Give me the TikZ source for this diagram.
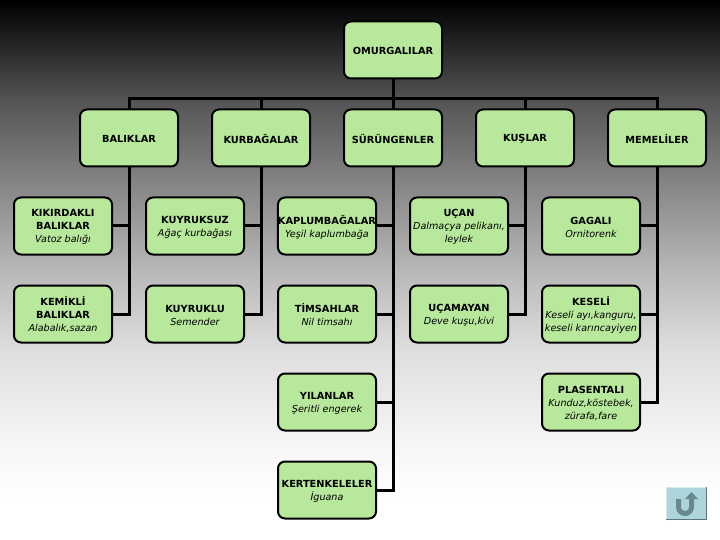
\documentclass[tikz,border=0pt]{standalone}
\usepackage{fontspec}
\setmainfont{DejaVu Sans}
\usepackage{tikz}
\usetikzlibrary{arrows.meta, positioning, calc}
\definecolor{BoxGreen}{RGB}{184, 232, 156}
\definecolor{BtnFace}{RGB}{172, 214, 220}
\definecolor{BtnArrow}{RGB}{104, 136, 142}
\pgfdeclareverticalshading{slidebg}{100bp}{
    color(0bp)=(white);
    color(28.7bp)=(white);
    color(33.3bp)=(black!3);
    color(42.6bp)=(black!13);
    color(50bp)=(black!28);
    color(56.5bp)=(black!44);
    color(65.7bp)=(black!67);
    color(73bp)=(black!93);
    color(75bp)=(black);
    color(100bp)=(black)}
\newcommand{\head}[1]{\raisebox{-1pt}[\height][\depth]{\fontsize{9.8pt}{13pt}\selectfont\bfseries #1}}
\newcommand{\kind}[1]{\raisebox{-1pt}[\height][\depth]{\fontsize{9.6pt}{13pt}\selectfont\itshape #1}}

\begin{document}
\begin{tikzpicture}[
    x=1pt,
    y=-1pt,
    group/.style={
        draw=black,
        fill=BoxGreen,
        line width=2pt,
        rounded corners=7pt,
        align=center,
        font=\fontsize{9.8pt}{13pt}\selectfont,
        minimum width=98pt,
        minimum height=57pt,
        inner sep=0pt,
        outer sep=0pt
    },
    link/.style={draw=black, line width=3pt, line cap=butt, line join=miter}
]

\useasboundingbox (0,0) rectangle (720,540);
\shade[shading=slidebg] (0,0) rectangle (720,540);

% top level
\node[group] (root) at (393,50) {\head{OMURGALILAR}};
\node[group] (balik) at (129,138) {\head{BALIKLAR}};
\node[group] (kurba) at (261,138) {\head{KURBAĞALAR}};
\node[group] (surun) at (393,138) {\head{SÜRÜNGENLER}};
\node[group] (kus) at (525,138) {\head{KUŞLAR}};
\node[group] (meme) at (657,138) {\head{MEMELİLER}};

% row one
\node[group] (kikir) at (63,226) {\head{KIKIRDAKLI}\\\head{BALIKLAR}\\\kind{Vatoz balığı}};
\node[group] (kuyruksuz) at (195,226) {\head{KUYRUKSUZ}\\\kind{Ağaç kurbağası}};
\node[group] (kaplum) at (327,226) {\head{KAPLUMBAĞALAR}\\\kind{Yeşil kaplumbağa}};
\node[group] (ucan) at (459,226) {\head{UÇAN}\\\kind{Dalmaçya pelikanı,}\\\kind{leylek}};
\node[group] (gagali) at (591,226) {\head{GAGALI}\\\kind{Ornitorenk}};

% row two
\node[group] (kemik) at (63,314) {\head{KEMİKLİ}\\\head{BALIKLAR}\\\kind{Alabalık,sazan}};
\node[group] (kuyruklu) at (195,314) {\head{KUYRUKLU}\\\kind{Semender}};
\node[group] (timsah) at (327,314) {\head{TİMSAHLAR}\\\kind{Nil timsahı}};
\node[group] (ucamayan) at (459,314) {\head{UÇAMAYAN}\\\kind{Deve kuşu,kivi}};
\node[group] (keseli) at (591,314) {\head{KESELİ}\\\kind{Keseli ayı,kanguru,}\\\kind{keseli karıncayiyen}};

% lower rows
\node[group] (yilan) at (327,402) {\head{YILANLAR}\\\kind{Şeritli engerek}};
\node[group] (plasenta) at (591,402) {\head{PLASENTALI}\\\kind{Kunduz,köstebek,}\\\kind{zürafa,fare}};
\node[group] (kerten) at (327,490) {\head{KERTENKELELER}\\\kind{İguana}};

% bus
\coordinate (bus) at (393,99);
\draw[link] (root.south) -- (surun.north);
\draw[link] (balik.north) |- (bus) -| (meme.north);
\draw[link] (kurba.north) -- (kurba.north |- bus);
\draw[link] (kus.north) -- (kus.north |- bus);

% spines
\draw[link] (balik.south) |- (kemik.east);
\draw[link] (kurba.south) |- (kuyruklu.east);
\draw[link] (surun.south) |- (kerten.east);
\draw[link] (kus.south) |- (ucamayan.east);
\draw[link] (meme.south) |- (plasenta.east);

\draw[link] (kikir.east) -- (kikir.east -| balik.south);
\draw[link] (kuyruksuz.east) -- (kuyruksuz.east -| kurba.south);
\draw[link] (kaplum.east) -- (kaplum.east -| surun.south);
\draw[link] (timsah.east) -- (timsah.east -| surun.south);
\draw[link] (yilan.east) -- (yilan.east -| surun.south);
\draw[link] (ucan.east) -- (ucan.east -| kus.south);
\draw[link] (gagali.east) -- (gagali.east -| meme.south);
\draw[link] (keseli.east) -- (keseli.east -| meme.south);

% back button
\fill[BtnFace] (666,487) rectangle (707,520);
\draw[BtnFace!50!white, line width=1pt] (666.5,520) -- (666.5,487.5) -- (707,487.5);
\draw[BtnFace!55!black, line width=1.4pt] (666,519.3) -- (706.3,519.3) -- (706.3,487);
\draw[BtnArrow, line width=5pt] (678.5,499) -- (678.5,507) arc[start angle=180, end angle=0, x radius=6.5pt, y radius=-6.5pt] -- (691.5,498);
\fill[BtnArrow] (685,499) -- (691.5,492) -- (698,499) -- cycle;

\end{tikzpicture}
\end{document}
